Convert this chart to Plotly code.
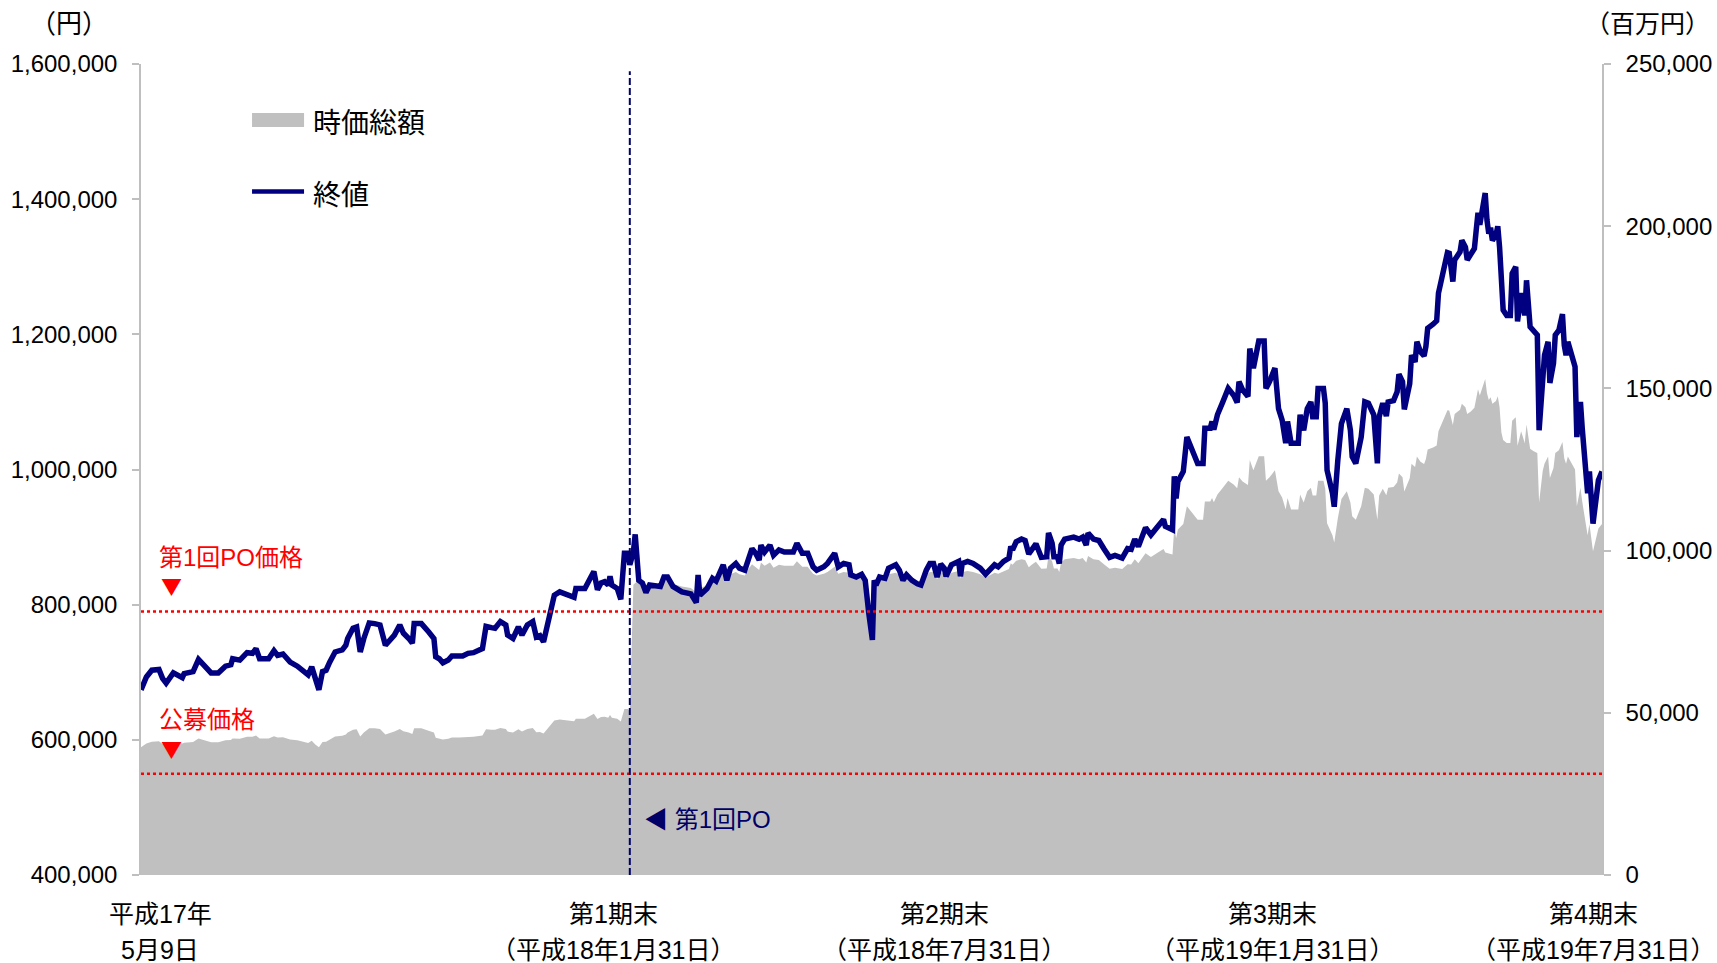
import pandas as pd
import plotly.graph_objects as go

# ---------------- data ----------------
listing_date = "2005-05-09"

days_from_listing = [
    0, 3, 6, 10, 12, 14, 18, 21, 23, 24, 29, 32, 36, 39, 43, 47, 50, 51, 55, 59,
    62, 64, 66, 71, 74, 76, 79, 83, 87, 90, 93, 95, 97, 99, 101, 103, 105, 108, 112, 114,
    115, 118, 120, 122, 124, 127, 130, 133, 136, 139, 141, 144, 146, 149, 151, 152, 156, 160, 163, 164,
    166, 168, 171, 173, 177, 179, 182, 185, 190, 192, 195, 197, 200, 203, 204, 207, 210, 212, 215, 218,
    220, 222, 224, 226, 228, 230, 233, 237, 241, 242, 247, 250, 252, 254, 256, 258, 260, 261, 262, 265,
    267, 269, 271, 272, 274, 275, 277, 279, 281, 283, 289, 291, 293, 296, 298, 301, 306, 309, 310, 311,
    315, 318, 320, 324, 326, 328, 331, 333, 336, 338, 340, 342, 344, 345, 347, 350, 352, 355, 358, 363,
    365, 368, 371, 374, 376, 380, 382, 386, 388, 391, 394, 395, 398, 401, 403, 405, 407, 408, 409, 411,
    414, 416, 420, 422, 424, 426, 429, 432, 434, 437, 439, 441, 443, 445, 447, 448, 451, 455, 456, 457,
    460, 463, 467, 470, 472, 475, 477, 480, 483, 484, 485, 487, 490, 492, 494, 496, 498, 501, 504, 505,
    507, 508, 510, 511, 512, 514, 519, 522, 524, 526, 527, 530, 533, 536, 539, 542, 546, 549, 551, 553,
    555, 559, 562, 565, 569, 570, 574, 575, 576, 577, 580, 582, 586, 588, 591, 592, 595, 596, 597, 599,
    602, 605, 608, 610, 611, 613, 616, 617, 619, 621, 622, 625, 626, 628, 631, 633, 635, 637, 638, 640,
    644, 645, 647, 649, 651, 652, 654, 655, 658, 659, 660, 663, 664, 666, 668, 671, 673, 674, 676, 679,
    680, 681, 683, 686, 688, 689, 691, 693, 694, 697, 699, 700, 702, 703, 706, 707, 709, 710, 712, 714,
    715, 716, 719, 721, 722, 727, 728, 730, 731, 733, 734, 735, 737, 738, 740, 742, 743, 744, 745, 747,
    748, 749, 750, 751, 752, 754, 755, 756, 757, 758, 760, 762, 763, 765, 766, 768, 770, 771, 773, 775,
    777, 778, 780, 781, 783, 784, 786, 787, 789, 791, 792, 793, 794, 798, 799, 801, 802, 805, 806, 808,
    811, 813,
]

close_price_yen = [
    674000, 693000, 703000, 704000, 691000, 684000, 699000, 696000, 692000, 698000,
    701000, 719000, 707000, 699000, 699000, 709000, 711000, 720000, 718000, 729000,
    728000, 735000, 720000, 720000, 732000, 725000, 727000, 715000, 709000, 703000,
    696000, 708000, 688000, 674000, 701000, 703000, 715000, 730000, 733000, 740000,
    750000, 765000, 767000, 730000, 750000, 773000, 772000, 770000, 740000, 748000,
    755000, 770000, 758000, 750000, 743000, 772000, 772000, 760000, 750000, 723000,
    720000, 714000, 718000, 724000, 725000, 724000, 728000, 729000, 735000, 768000,
    766000, 765000, 775000, 770000, 755000, 750000, 767000, 755000, 770000, 775000,
    752000, 754000, 745000, 770000, 795000, 814000, 819000, 816000, 811000, 824000,
    824000, 839000, 849000, 822000, 832000, 834000, 829000, 842000, 829000, 824000,
    808000, 876000, 876000, 859000, 878000, 904000, 836000, 832000, 818000, 829000,
    827000, 841000, 841000, 827000, 824000, 819000, 816000, 803000, 844000, 814000,
    824000, 839000, 835000, 859000, 836000, 854000, 861000, 854000, 851000, 869000,
    883000, 876000, 866000, 888000, 878000, 888000, 873000, 881000, 878000, 878000,
    891000, 876000, 876000, 856000, 851000, 856000, 861000, 876000, 856000, 861000,
    859000, 844000, 841000, 845000, 836000, 787000, 748000, 836000, 829000, 841000,
    839000, 854000, 859000, 851000, 836000, 844000, 836000, 831000, 829000, 851000,
    861000, 861000, 841000, 860000, 854000, 842000, 859000, 864000, 842000, 861000,
    864000, 861000, 854000, 845000, 851000, 859000, 856000, 864000, 869000, 886000,
    881000, 893000, 897000, 895000, 875000, 883000, 890000, 870000, 871000, 906000,
    891000, 871000, 871000, 861000, 888000, 897000, 900000, 897000, 900000, 888000,
    906000, 897000, 895000, 882000, 870000, 873000, 869000, 883000, 882000, 897000,
    886000, 914000, 903000, 913000, 926000, 916000, 911000, 990000, 957000, 982000,
    997000, 1048000, 1024000, 1009000, 1009000, 1061000, 1061000, 1071000, 1059000, 1081000,
    1100000, 1120000, 1110000, 1099000, 1130000, 1118000, 1108000, 1179000, 1150000, 1174000,
    1190000, 1190000, 1120000, 1130000, 1150000, 1090000, 1073000, 1039000, 1071000, 1039000,
    1039000, 1081000, 1058000, 1090000, 1100000, 1078000, 1078000, 1120000, 1120000, 1098000,
    999000, 965000, 945000, 1014000, 1068000, 1090000, 1058000, 1019000, 1009000, 1048000,
    1078000, 1100000, 1098000, 1081000, 1009000, 1078000, 1098000, 1079000, 1100000, 1102000,
    1115000, 1141000, 1130000, 1089000, 1127000, 1169000, 1159000, 1189000, 1174000, 1168000,
    1182000, 1209000, 1215000, 1220000, 1261000, 1321000, 1320000, 1278000, 1310000, 1316000,
    1322000, 1339000, 1329000, 1310000, 1317000, 1327000, 1354000, 1380000, 1362000, 1394000,
    1409000, 1369000, 1349000, 1358000, 1339000, 1347000, 1360000, 1329000, 1258000, 1236000,
    1228000, 1228000, 1290000, 1300000, 1219000, 1261000, 1228000, 1280000, 1211000, 1204000,
    1199000, 1058000, 1147000, 1169000, 1189000, 1128000, 1157000, 1199000, 1206000, 1230000,
    1184000, 1169000, 1189000, 1152000, 1048000, 1100000, 1061000, 965000, 997000, 920000,
    984000, 997000,
]

market_cap_mil_yen = [
    39400, 40500, 41100, 41200, 40400, 40000, 40900, 40700, 40500, 40800,
    41000, 42100, 41400, 40900, 40900, 41500, 41600, 42100, 42000, 42600,
    42600, 43000, 42100, 42100, 42800, 42400, 42500, 41800, 41500, 41100,
    40700, 41400, 40200, 39400, 41000, 41100, 41800, 42700, 42900, 43300,
    43900, 44800, 44900, 42700, 43900, 45200, 45200, 45000, 43300, 43800,
    44200, 45000, 44300, 43900, 43500, 45200, 45200, 44500, 43900, 42300,
    42100, 41800, 42000, 42400, 42400, 42400, 42600, 42600, 43000, 44900,
    44800, 44800, 45300, 45000, 44200, 43900, 44900, 44200, 45000, 45300,
    44000, 44100, 43600, 45000, 46500, 47600, 47900, 47700, 47400, 48200,
    48200, 49100, 49700, 48100, 48700, 48800, 48500, 49300, 48500, 48200,
    47300, 51200, 51200, 50300, 89500, 90000, 90700, 90300, 88800, 89900,
    89700, 91200, 91200, 89700, 89400, 88900, 88500, 87100, 91600, 88300,
    89400, 91000, 90600, 93200, 90700, 92700, 93400, 92700, 92300, 94300,
    95800, 95000, 94000, 96300, 95300, 96300, 94700, 95600, 95300, 95300,
    96700, 95000, 95000, 92900, 92300, 92900, 93400, 95000, 92900, 93400,
    93200, 91600, 91200, 91700, 90700, 85400, 81200, 90700, 89900, 91200,
    91000, 92700, 93200, 92300, 90700, 91600, 90700, 90200, 89900, 92300,
    93400, 93400, 91200, 93300, 92700, 91400, 93200, 93700, 91400, 93400,
    93700, 93400, 92700, 91700, 92300, 93200, 92900, 93700, 94300, 96100,
    95600, 96900, 97300, 97100, 94900, 95800, 96600, 94400, 94500, 98300,
    96700, 94500, 94500, 93400, 96300, 97300, 97700, 97300, 97700, 96300,
    98300, 97300, 97100, 95700, 94400, 94700, 94300, 95800, 95700, 97300,
    96100, 99200, 98000, 99100, 100500, 99400, 98800, 107400, 103800, 106500,
    108200, 113700, 111100, 109500, 109500, 115100, 115100, 116200, 114900, 117300,
    119400, 121500, 120400, 119200, 122600, 121300, 120200, 127900, 124800, 127400,
    129100, 129100, 121500, 122600, 124800, 118300, 116400, 112700, 116200, 112700,
    112700, 117300, 114800, 118300, 119400, 117000, 117000, 121500, 121500, 119100,
    108400, 104700, 102500, 110000, 115900, 118300, 114800, 110600, 109500, 113700,
    117000, 119400, 119100, 117300, 109500, 117000, 119100, 117100, 119400, 119600,
    121000, 123800, 122600, 118200, 122300, 126800, 125800, 129000, 127400, 126700,
    128200, 131200, 131800, 132400, 136800, 143300, 143200, 138700, 142100, 142800,
    143400, 145300, 144200, 142100, 142900, 144000, 146900, 149700, 147800, 151200,
    152900, 148500, 146400, 147300, 145300, 146100, 147600, 144200, 136500, 134100,
    133200, 133200, 140000, 141100, 132300, 136800, 133200, 138900, 131400, 130600,
    130100, 114800, 124500, 126800, 129000, 122400, 125500, 130100, 130900, 133500,
    128500, 126800, 129000, 125000, 113700, 119400, 115100, 104700, 108200, 99800,
    106800, 108200,
]

ipo_price_yen = 550000          # 公募価格
po1_price_yen = 790000          # 第1回PO価格
po1_date = "2006-02-05"         # 第1回PO

series_names = ["時価総額", "終値"]

x_label_dates = ["2005-05-09", "2006-01-31", "2006-07-31", "2007-01-31", "2007-07-31"]
x_label_line1 = ["平成17年", "第1期末", "第2期末", "第3期末", "第4期末"]
x_label_line2 = ["5月9日", "（平成18年1月31日）", "（平成18年7月31日）",
                 "（平成19年1月31日）", "（平成19年7月31日）"]

price_ticks = [400000, 600000, 800000, 1000000, 1200000, 1400000, 1600000]
cap_ticks = [0, 50000, 100000, 150000, 200000, 250000]

# ---------------- build ----------------
dates = pd.Timestamp(listing_date) + pd.to_timedelta(days_from_listing, unit="D")

NUM_FONT = "Liberation Sans, Arial, Noto Sans CJK JP, sans-serif"
JP_FONT = "Noto Sans CJK JP, sans-serif"
MIX_FONT = "Liberation Sans, Noto Sans CJK JP, sans-serif"
AXIS_GRAY = "#BFBFBF"
NAVY = "#000080"
AREA_GRAY = "#C0C0C0"

fig = go.Figure()

fig.add_trace(go.Scatter(
    x=dates, y=market_cap_mil_yen, name=series_names[0], yaxis="y",
    mode="lines", line=dict(width=0, color=AREA_GRAY),
    fill="tozeroy", fillcolor=AREA_GRAY, showlegend=False,
))
fig.add_trace(go.Scatter(
    x=dates, y=close_price_yen, name=series_names[1], yaxis="y2",
    mode="lines", line=dict(width=5.5, color=NAVY), showlegend=False,
))

axis_common = dict(
    showgrid=False, zeroline=False, showline=True, linecolor=AXIS_GRAY, linewidth=1.5,
    ticks="outside", ticklen=7, tickcolor=AXIS_GRAY, tickwidth=1.5, ticklabelstandoff=10,
    tickformat=",", tickfont=dict(family=NUM_FONT, size=24, color="black"),
    automargin=False,
)

fig.update_layout(
    width=1717, height=963,
    margin=dict(l=141, r=115, t=64, b=88),
    paper_bgcolor="white", plot_bgcolor="white",
    xaxis=dict(type="date", range=[dates[0], dates[-1]], showgrid=False, zeroline=False,
               showline=False, showticklabels=False, ticks="", automargin=False),
    yaxis=dict(side="right", range=[0, 250000], tickvals=cap_ticks, **axis_common),
    yaxis2=dict(side="left", overlaying="y", range=[400000, 1600000], tickvals=price_ticks,
                **axis_common),
    showlegend=False,
)

# legend (drawn as key swatches + labels)
fig.add_shape(type="rect", xref="paper", yref="paper", x0=0.0760, x1=0.1116, y0=0.9223, y1=0.9396,
              line=dict(width=0), fillcolor=AREA_GRAY)
fig.add_shape(type="line", xref="paper", yref="paper", x0=0.0760, x1=0.1116, y0=0.8427, y1=0.8427,
              line=dict(width=4.5, color=NAVY))
for name, ly in zip(series_names, [0.9303, 0.8413]):
    fig.add_annotation(text=name, xref="paper", x=0.1165, xanchor="left", yref="paper", y=ly,
                       yanchor="middle", showarrow=False,
                       font=dict(family=JP_FONT, size=28, color="black"))

# reference lines
fig.add_shape(type="line", xref="paper", x0=0, x1=1, yref="y2", y0=po1_price_yen, y1=po1_price_yen,
              line=dict(color="#FF0000", width=2.5, dash="dot"))
fig.add_shape(type="line", xref="paper", x0=0, x1=1, yref="y2", y0=ipo_price_yen, y1=ipo_price_yen,
              line=dict(color="#FF0000", width=2.5, dash="dot"))
fig.add_shape(type="line", xref="x", x0=po1_date, x1=po1_date, yref="paper", y0=0, y1=0.991,
              line=dict(color="#000066", width=2, dash="7px,3px"))

# red price labels
for txt, val in [("第1回PO価格", po1_price_yen), ("公募価格", ipo_price_yen)]:
    fig.add_annotation(text=txt, xref="paper", x=0.011, xanchor="left", yref="y2", y=val,
                       yanchor="middle", yshift=54, showarrow=False,
                       font=dict(family=MIX_FONT, size=24, color="#FF0000"))
    fig.add_annotation(text="▼", xref="paper", x=0.0209, xanchor="center", yref="y2", y=val,
                       yanchor="middle", yshift=26, showarrow=False,
                       font=dict(family=JP_FONT, size=21, color="#FF0000"))

# PO marker label
fig.add_annotation(text="◀ 第1回PO", xref="x", x=po1_date, xanchor="left", xshift=12,
                   yref="paper", y=0.069, yanchor="middle", showarrow=False,
                   font=dict(family=MIX_FONT, size=24, color="#000066"))

# axis unit labels
fig.add_annotation(text="（円）", xref="paper", x=-0.049, yref="paper", y=1.052,
                   xanchor="center", yanchor="middle", showarrow=False,
                   font=dict(family=JP_FONT, size=26, color="black"))
fig.add_annotation(text="（百万円）", xref="paper", x=1.031, yref="paper", y=1.052,
                   xanchor="center", yanchor="middle", showarrow=False,
                   font=dict(family=JP_FONT, size=25, color="black"))

# x-axis period labels
label_xshift = [19, -7, -2, -4, -9]
for d, l1, l2, xs in zip(x_label_dates, x_label_line1, x_label_line2, label_xshift):
    fig.add_annotation(text=l1, xref="x", x=d, xshift=xs, yref="paper", y=-0.048,
                       xanchor="center", yanchor="middle", showarrow=False,
                       font=dict(family=MIX_FONT, size=25, color="black"))
    fig.add_annotation(text=l2, xref="x", x=d, xshift=xs, yref="paper", y=-0.0925,
                       xanchor="center", yanchor="middle", showarrow=False,
                       font=dict(family=MIX_FONT, size=25, color="black"))

fig.write_html("out.html")
